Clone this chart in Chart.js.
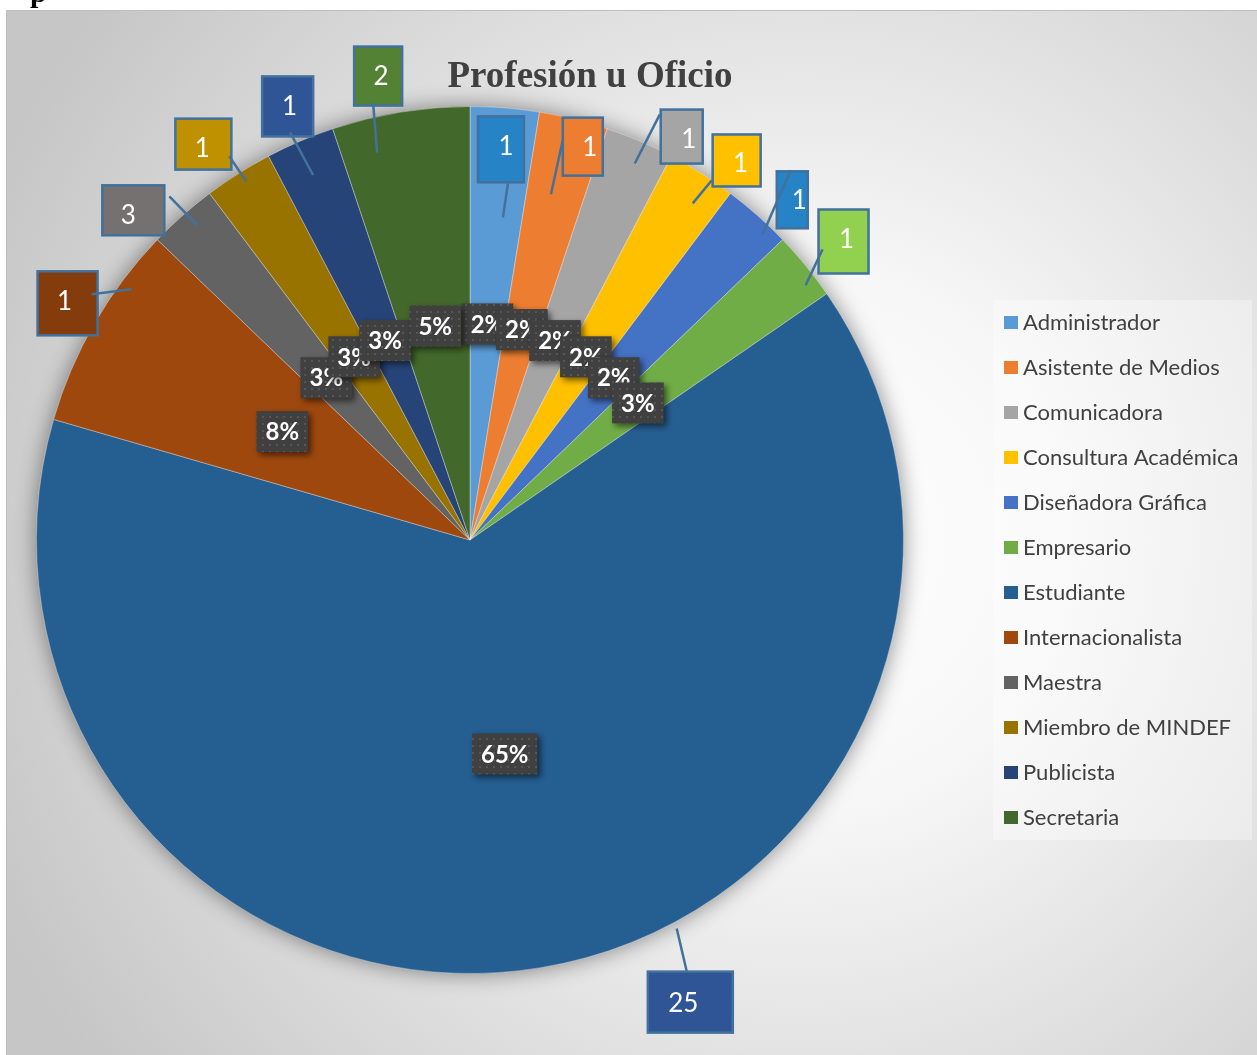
<!DOCTYPE html>
<html>
<head>
<meta charset="utf-8">
<script src="https://cdn.jsdelivr.net/npm/chart.js@4"></script>
<style>
html, body { margin: 0; padding: 0; background: #fff; overflow: hidden; }
#myChart { position: absolute; left: 0; top: 0; }
</style>
</head>
<body>
<canvas id="myChart" width="1257" height="1055"></canvas>
<script>
// Datos del grafico
const categorias = ['Administrador', 'Asistente de Medios', 'Comunicadora', 'Consultura Académica',
    'Diseñadora Gráfica', 'Empresario', 'Estudiante', 'Internacionalista', 'Maestra',
    'Miembro de MINDEF', 'Publicista', 'Secretaria'];
const valores = [1, 1, 1, 1, 1, 1, 25, 3, 1, 1, 1, 2];
// textos de las etiquetas tal como aparecen en el grafico
const etiquetasValor = ['1', '1', '1', '1', '1', '1', '25', '1', '3', '1', '1', '2'];
const etiquetasPorcentaje = ['2%', '2%', '2%', '2%', '2%', '3%', '65%', '8%', '3%', '3%', '3%', '5%'];

// Colores
const colores = ['#5B9BD5', '#ED7D31', '#A5A5A5', '#FFC000', '#4472C4', '#70AD47',
    '#255E91', '#9E480E', '#636363', '#997300', '#264478', '#43682B'];
const coloresCaja = ['#2683C6', '#ED7D31', '#A5A5A5', '#FFC000', '#2683C6', '#92D050',
    '#2F5597', '#843C0C', '#767171', '#BF9000', '#2F5597', '#548235'];

// Posicion de las etiquetas (angulo desde arriba en grados, radio relativo al pastel)
// [angCaja, rCaja, ancho, alto, angLineaIni, rLineaIni, angLineaFin, rLineaFin, dxTexto, dyTexto]
const posEtiquetas = [
    [4.53, 0.904, 46, 66, 5.83, 0.748, 6.08, 0.827, 5, -4],
    [16.0, 0.944, 40, 58, 13.18, 0.819, 13.06, 0.948, 7, 0],
    [27.69, 1.051, 42, 54, 23.64, 0.948, 24.04, 1.075, 7, 2],
    [35.09, 1.070, 48, 52, 33.49, 0.931, 33.91, 1.0, 4, 2],
    [43.45, 1.081, 31, 57, 43.76, 0.976, 40.94, 1.129, 7, 0],
    [51.37, 1.103, 50, 64, 52.8, 0.972, 50.5, 1.054, 3, -3],
    [154.51, 1.181, 85, 61, 151.98, 1.015, 153.33, 1.114, -7, 0],
    [300.46, 1.077, 60, 64, 306.52, 0.972, 303.0, 1.041, -3, -3],
    [314.4, 1.087, 62, 50, 319.09, 0.960, 318.81, 1.053, -5, 4],
    [326.04, 1.101, 56, 51, 328.04, 0.975, 327.89, 1.045, -1, 3],
    [337.19, 1.085, 51, 60, 336.73, 0.916, 336.19, 1.028, 2, -1],
    [348.8, 1.091, 48, 59, 346.52, 0.919, 347.51, 1.034, 3, 0]
];

//Patron de puntos para las cajas de porcentaje
function patronPuntos(ctx) {
    let c = document.createElement('canvas');
    c.width = 7;
    c.height = 7;
    let p = c.getContext('2d');
    p.fillStyle = '#404040';
    p.fillRect(0, 0, 7, 7);
    p.fillStyle = '#565656';
    p.fillRect(3, 3, 2, 2);
    return ctx.createPattern(c, 'repeat');
}

const decoracion = {
    id: 'decoracion',
    beforeDraw(chart) {
        const ctx = chart.ctx;
        ctx.save();
        // letra cortada del texto de arriba
        ctx.fillStyle = '#000';
        ctx.font = 'bold 30px "Liberation Serif"';
        ctx.textBaseline = 'alphabetic';
        ctx.fillText('p', 30, 2);
        // fondo degradado
        let g = ctx.createRadialGradient(800, 540, 0, 800, 540, 880);
        g.addColorStop(0, '#ffffff');
        g.addColorStop(0.3, '#f7f7f7');
        g.addColorStop(1, '#c6c6c6');
        ctx.fillStyle = g;
        ctx.fillRect(6, 10, chart.width - 6, chart.height - 10);
        ctx.strokeStyle = '#bfbfbf';
        ctx.lineWidth = 1;
        ctx.strokeRect(6.5, 10.5, chart.width, chart.height);
        ctx.restore();
    },
    beforeDatasetsDraw(chart) {
        // sombra del pastel
        const arc = chart.getDatasetMeta(0).data[0];
        const ctx = chart.ctx;
        ctx.save();
        ctx.shadowColor = 'rgba(0,0,0,0.45)';
        ctx.shadowBlur = 22;
        ctx.fillStyle = '#888';
        ctx.beginPath();
        ctx.arc(arc.x, arc.y, arc.outerRadius, 0, Math.PI * 2);
        ctx.fill();
        ctx.restore();
    },
    afterDatasetsDraw(chart) {
        const ctx = chart.ctx;
        const arcs = chart.getDatasetMeta(0).data;
        const patron = patronPuntos(ctx);
        ctx.save();
        ctx.textAlign = 'center';
        ctx.textBaseline = 'middle';

        // Etiquetas de porcentaje
        ctx.font = 'bold 24px Lato';
        arcs.forEach(function (arc, i) {
            let a = (arc.startAngle + arc.endAngle) / 2;
            let r = arc.outerRadius * 0.5;
            let x = arc.x + r * Math.cos(a);
            let y = arc.y + r * Math.sin(a);
            let txt = etiquetasPorcentaje[i];
            let w = Math.max(50, ctx.measureText(txt).width + 18);
            let h = 41;
            ctx.save();
            ctx.shadowColor = 'rgba(0,0,0,0.55)';
            ctx.shadowBlur = 6;
            ctx.shadowOffsetX = 3;
            ctx.shadowOffsetY = 3;
            ctx.fillStyle = patron;
            ctx.fillRect(x - w / 2, y - h / 2, w, h);
            ctx.restore();
            ctx.fillStyle = '#fff';
            ctx.fillText(txt, x, y + 1);
        });

        // Etiquetas de valor con linea guia
        ctx.font = '26px Lato';
        arcs.forEach(function (arc, i) {
            let pos = posEtiquetas[i];
            let pt = function (ang, rr) {
                let rad = ang * Math.PI / 180;
                return [arc.x + rr * arc.outerRadius * Math.sin(rad), arc.y - rr * arc.outerRadius * Math.cos(rad)];
            };
            let c = pt(pos[0], pos[1]);
            let w = pos[2], h = pos[3];
            ctx.fillStyle = coloresCaja[i];
            ctx.fillRect(c[0] - w / 2, c[1] - h / 2, w, h);
            ctx.strokeStyle = '#41719C';
            ctx.lineWidth = 2.5;
            ctx.strokeRect(c[0] - w / 2, c[1] - h / 2, w, h);
            let p1 = pt(pos[4], pos[5]);
            let p2 = pt(pos[6], pos[7]);
            ctx.beginPath();
            ctx.moveTo(p1[0], p1[1]);
            ctx.lineTo(p2[0], p2[1]);
            ctx.stroke();
            ctx.fillStyle = '#fff';
            ctx.fillText(etiquetasValor[i], c[0] + pos[8], c[1] + pos[9] + 1);
        });
        ctx.restore();
    },
    afterDraw(chart) {
        const ctx = chart.ctx;
        ctx.save();
        // Titulo
        ctx.font = 'bold 37px "Liberation Serif"';
        ctx.fillStyle = '#404040';
        ctx.textAlign = 'center';
        ctx.textBaseline = 'alphabetic';
        ctx.fillText('Profesión u Oficio', 590, 87);

        // Leyenda
        ctx.fillStyle = 'rgba(255,255,255,0.35)';
        ctx.fillRect(993, 300, 259, 540);
        ctx.font = '22px Lato';
        ctx.textAlign = 'left';
        ctx.textBaseline = 'middle';
        chart.data.labels.forEach(function (lab, i) {
            let y = 322.5 + i * 45;
            ctx.fillStyle = colores[i];
            ctx.fillRect(1004, y - 6.5, 14, 13);
            ctx.fillStyle = '#404040';
            ctx.fillText(lab, 1023, y);
        });
        ctx.restore();
    }
};

//Grafico
const ctx = document.getElementById('myChart').getContext('2d');
const myChart = new Chart(ctx, {
    type: 'pie',
    data: {
        labels: categorias,
        datasets: [{
            data: valores,
            backgroundColor: colores,
            borderColor: 'rgba(255,255,255,0.35)',
            borderWidth: 1
        }]
    },
    options: {
        responsive: false,
        devicePixelRatio: 1,
        animation: false,
        layout: {
            padding: { left: 36, top: 106, right: 353, bottom: 81 }
        },
        plugins: {
            legend: { display: false },
            tooltip: { enabled: false },
            title: { display: false }
        }
    },
    plugins: [decoracion]
});
</script>
</body>
</html>
